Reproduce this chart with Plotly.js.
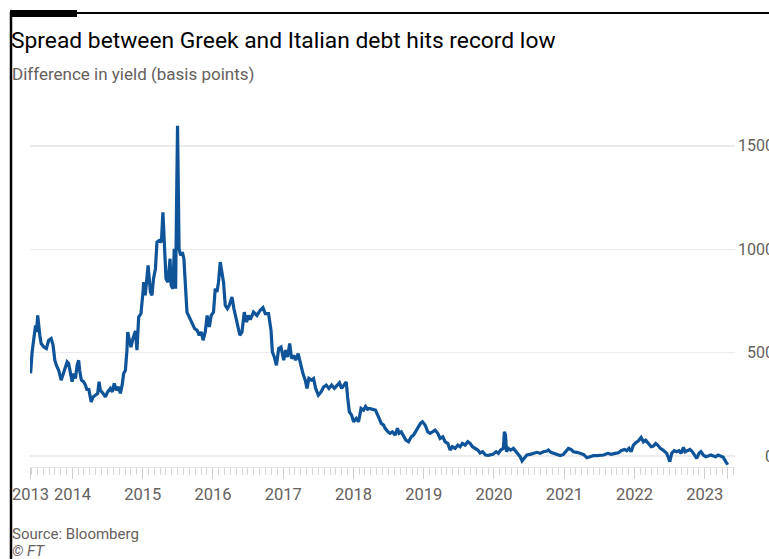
<!DOCTYPE html>
<html>
<head>
<meta charset="utf-8">
<script src="https://cdn.plot.ly/plotly-3.0.1.min.js"></script>
<style>
html,body{margin:0;padding:0;background:#fff;overflow:hidden;width:769px;height:559px;}
#chart{width:790px;height:559px;}
</style>
</head>
<body>
<div id="chart"></div>
<script>
// Dates as decimal years
const dateYears = [
2013.405,2013.415,2013.427,2013.450,2013.474,2013.488,2013.506,2013.535,2013.555,2013.592,
2013.630,2013.663,2013.697,2013.725,2013.748,2013.772,2013.805,2013.839,2013.868,2013.900,
2013.925,2013.947,2013.972,2013.996,2014.018,2014.043,2014.067,2014.090,2014.104,2014.128,
2014.161,2014.185,2014.209,2014.232,2014.266,2014.294,2014.327,2014.360,2014.380,2014.398,
2014.437,2014.469,2014.502,2014.541,2014.569,2014.597,2014.626,2014.659,2014.683,2014.707,
2014.730,2014.754,2014.778,2014.787,2014.811,2014.835,2014.863,2014.896,2014.920,2014.943,
2014.977,2014.991,2015.006,2015.014,2015.038,2015.077,2015.110,2015.134,2015.156,2015.181,
2015.205,2015.238,2015.266,2015.290,2015.313,2015.333,2015.361,2015.390,2015.408,2015.432,
2015.451,2015.469,2015.484,2015.498,2015.518,2015.541,2015.565,2015.589,2015.607,2015.632,
2015.664,2015.703,2015.740,2015.778,2015.807,2015.835,2015.863,2015.892,2015.920,2015.949,
2015.977,2016.010,2016.034,2016.058,2016.081,2016.105,2016.129,2016.152,2016.176,2016.205,
2016.233,2016.272,2016.300,2016.329,2016.357,2016.385,2016.414,2016.447,2016.479,2016.508,
2016.532,2016.579,2016.627,2016.674,2016.713,2016.745,2016.792,2016.826,2016.845,2016.873,
2016.902,2016.935,2016.969,2017.006,2017.034,2017.063,2017.091,2017.119,2017.148,2017.176,
2017.211,2017.243,2017.282,2017.314,2017.339,2017.367,2017.400,2017.432,2017.461,2017.499,
2017.538,2017.575,2017.613,2017.651,2017.688,2017.727,2017.765,2017.802,2017.831,2017.869,
2017.898,2017.916,2017.940,2017.973,2018.001,2018.040,2018.073,2018.107,2018.144,2018.172,
2018.201,2018.230,2018.275,2018.313,2018.366,2018.395,2018.428,2018.452,2018.491,2018.523,
2018.556,2018.595,2018.627,2018.651,2018.680,2018.713,2018.747,2018.784,2018.822,2018.855,
2018.889,2018.926,2018.954,2018.983,2019.021,2019.060,2019.092,2019.131,2019.164,2019.202,
2019.235,2019.273,2019.306,2019.344,2019.377,2019.410,2019.448,2019.486,2019.519,2019.552,
2019.590,2019.629,2019.661,2019.694,2019.733,2019.771,2019.804,2019.840,2019.880,2019.920,
2019.984,2020.031,2020.064,2020.098,2020.135,2020.149,2020.164,2020.178,2020.206,2020.240,
2020.277,2020.316,2020.348,2020.373,2020.401,2020.430,2020.468,2020.515,2020.562,2020.610,
2020.657,2020.704,2020.752,2020.775,2020.809,2020.846,2020.894,2020.942,2020.989,2021.027,
2021.060,2021.094,2021.131,2021.179,2021.226,2021.273,2021.321,2021.368,2021.415,2021.464,
2021.511,2021.560,2021.620,2021.667,2021.724,2021.771,2021.809,2021.856,2021.890,2021.923,
2021.952,2021.984,2022.018,2022.055,2022.094,2022.127,2022.161,2022.198,2022.236,2022.269,
2022.303,2022.331,2022.368,2022.407,2022.435,2022.459,2022.482,2022.502,2022.530,2022.567,
2022.602,2022.634,2022.663,2022.696,2022.720,2022.758,2022.791,2022.824,2022.852,2022.886,
2022.919,2022.947,2022.980,2023.014,2023.051,2023.090,2023.122,2023.156,2023.193,2023.232,
2023.264,2023.299,2023.327
];
// Greek minus Italian 10-year yield, basis points
const spreadBp = [
400,463,503,569,632,600,680,584,544,527,
520,560,568,536,463,439,415,367,399,439,
455,447,407,359,399,375,439,463,415,367,
359,343,318,327,262,286,294,303,359,318,
303,286,310,327,310,351,318,334,303,343,
399,415,512,600,560,527,568,605,512,672,
689,729,800,841,777,922,793,777,857,906,
1034,1042,1034,1179,1034,857,841,954,825,809,
1002,809,1227,1597,1002,970,986,954,841,696,
672,640,616,608,584,600,560,600,680,624,
680,696,809,793,841,938,889,841,729,713,
729,769,713,664,616,584,600,696,648,680,
660,696,680,705,718,689,689,608,503,479,
439,520,527,463,512,479,544,471,487,463,
495,447,399,367,327,375,367,375,327,294,
310,334,343,327,343,327,343,354,327,343,
359,286,214,198,166,182,166,230,222,240,
226,230,226,222,182,158,150,134,117,110,
117,101,134,110,117,93,77,69,93,101,
117,141,158,166,150,117,110,117,125,110,
85,93,69,61,29,45,37,53,45,61,
53,69,61,45,37,29,15,21,5,3,
8,21,13,29,37,117,101,21,37,29,
37,21,13,-3,-24,-11,5,8,13,18,
13,21,24,29,18,13,5,2,8,21,
37,32,21,18,13,8,-8,-3,2,2,
2,5,13,8,13,16,26,32,26,37,
21,53,64,74,90,69,77,61,45,48,
61,53,37,29,21,13,-6,-27,13,26,
21,26,13,42,21,29,32,21,5,-11,
13,21,5,-3,0,5,0,-3,5,0,
-6,-27,-42
];
const xTickYears = [2013.403,2014,2015,2016,2017,2018,2019,2020,2021,2022,2023,2023.327];
const xTickLabels = ['2013','2014','2015','2016','2017','2018','2019','2020','2021','2022','2023',''];
const yTickVals = [0,500,1000,1500];
const yTickLabels = ['0','500','1000','1500'];

function toDate(y){
  const yr = Math.floor(y);
  const a = Date.UTC(yr,0,1), b = Date.UTC(yr+1,0,1);
  return new Date(a + (y-yr)*(b-a)).toISOString().slice(0,10);
}

// pixel helpers for decorations (plot area: x 30..790, y 120..467)
const L=30, R=790, T=120, B=467;
const px = x => (x-L)/(R-L);
const py = y => (B-y)/(B-T);

const FONT = 'Roboto, "Noto Sans", sans-serif';
const GREY = '#66605c';

const trace = {
  x: dateYears.map(toDate),
  y: spreadBp,
  type: 'scatter',
  mode: 'lines',
  line: {color: '#0f5499', width: 3.2},
  hoverinfo: 'skip'
};

const layout = {
  width: 790, height: 559,
  margin: {l: L, r: 0, t: T, b: 559-B, pad: 0},
  paper_bgcolor: '#fff', plot_bgcolor: '#fff',
  showlegend: false,
  font: {family: FONT, color: GREY},
  title: {
    text: 'Spread between Greek and Italian debt hits record low',
    font: {family: FONT, size: 22.8, color: '#000'},
    xref: 'container', x: 11/790, xanchor: 'left',
    yref: 'container', y: 1-40/559, yanchor: 'middle'
  },
  xaxis: {
    type: 'date',
    domain: [0, (735-L)/(R-L)],
    range: [toDate(2013.397), toDate(2023.431)],
    tickmode: 'array',
    tickvals: xTickYears.map(toDate),
    ticktext: xTickLabels,
    ticks: 'outside', ticklen: 11, tickwidth: 1, tickcolor: '#cfcfcf',
    minor: {ticks: 'outside', ticklen: 7, tickwidth: 1, tickcolor: '#d6d6d6', dtick: 'M1', tick0: '2013-01-01', showgrid: false},
    showline: true, linecolor: '#e4e4e4', linewidth: 1,
    showgrid: false, zeroline: false,
    tickfont: {family: FONT, size: 16.5, color: GREY},
    ticklabelstandoff: 1,
    fixedrange: true
  },
  yaxis: {
    range: [-53, 1625],
    anchor: 'free', side: 'left', position: (774-L)/(R-L),
    tickmode: 'array', tickvals: yTickVals, ticktext: yTickLabels,
    ticks: '', showline: false, zeroline: false,
    showgrid: true, gridcolor: '#ebebeb', gridwidth: 1.5,
    tickfont: {family: FONT, size: 16, color: GREY},
    fixedrange: true
  },
  annotations: [
    {text: 'Difference in yield (basis points)', xref: 'paper', yref: 'paper',
     x: px(10), y: py(74), xanchor: 'left', yanchor: 'middle', showarrow: false,
     font: {family: FONT, size: 17, color: GREY}},
    {text: 'Source: Bloomberg', xref: 'paper', yref: 'paper',
     x: px(10), y: py(534), xanchor: 'left', yanchor: 'middle', showarrow: false,
     font: {family: FONT, size: 15, color: GREY}},
    {text: '<i>© FT</i>', xref: 'paper', yref: 'paper',
     x: px(10), y: py(551), xanchor: 'left', yanchor: 'middle', showarrow: false,
     font: {family: FONT, size: 15, color: GREY}}
  ],
  shapes: [
    {type: 'line', xref: 'paper', yref: 'paper', x0: px(11), x1: px(11), y0: py(12), y1: py(570),
     line: {color: '#000', width: 2.5}},
    {type: 'line', xref: 'paper', yref: 'paper', x0: px(10), x1: px(800), y0: py(13), y1: py(13),
     line: {color: '#000', width: 2}},
    {type: 'rect', xref: 'paper', yref: 'paper', x0: px(10), x1: px(77), y0: py(10), y1: py(17),
     fillcolor: '#000', line: {width: 0}}
  ]
};

Plotly.newPlot('chart', [trace], layout, {staticPlot: true, displayModeBar: false});
</script>
</body>
</html>
